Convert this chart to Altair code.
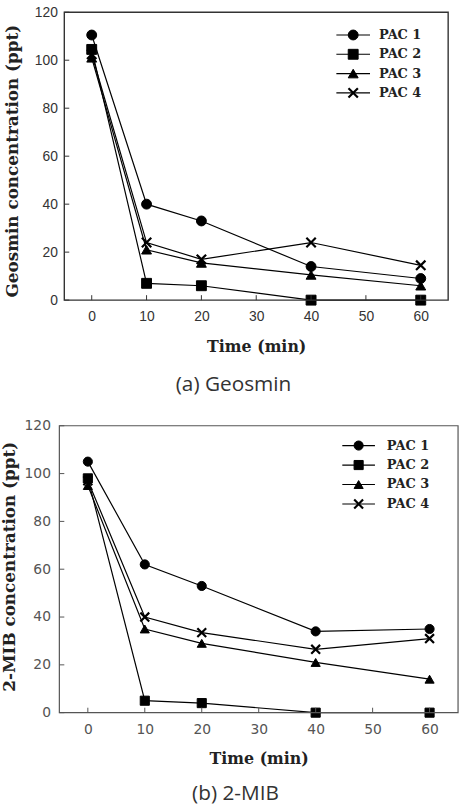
import altair as alt
import pandas as pd

# Sampling times (min) and PAC products
TIMES = [0, 10, 20, 40, 60]
SERIES = ["PAC 1", "PAC 2", "PAC 3", "PAC 4"]

# Geosmin concentration (ppt)
GEOSMIN_PAC1 = [110.5, 40, 33, 14, 9]
GEOSMIN_PAC2 = [104.5, 7, 6, 0, 0]
GEOSMIN_PAC3 = [101, 21, 15.5, 10.5, 6]
GEOSMIN_PAC4 = [102.5, 24, 17, 24, 14.5]

# 2-MIB concentration (ppt)
MIB_PAC1 = [105, 62, 53, 34, 35]
MIB_PAC2 = [98, 5, 4, 0, 0]
MIB_PAC3 = [95, 35, 29, 21, 14]
MIB_PAC4 = [97, 40, 33.5, 26.5, 31]

X_TICKS = [0, 10, 20, 30, 40, 50, 60]
Y_TICKS = [0, 20, 40, 60, 80, 100, 120]

X_MARK = "M-1,-1L1,1M-1,1L1,-1"
FILLED_SHAPES = ["circle", "square", "triangle-up"]


def long_frame(cols):
    rows = []
    for name, vals in zip(SERIES, cols):
        for t, v in zip(TIMES, vals):
            rows.append({"series": name, "time": t, "value": v})
    return pd.DataFrame(rows)


def panel(cols, y_title, caption, st):
    W, H, s = st["W"], st["H"], st["shift"]
    df = long_frame(cols)

    x = alt.X(
        "time:Q",
        scale=alt.Scale(domain=[-5, 65], nice=False, zero=False, range=[-s, W]),
        axis=alt.Axis(
            values=X_TICKS, title="Time (min)", grid=False, domain=False,
            ticks=False, tickSize=0, labelPadding=st["xpad"],
            labelFont=st["lfont"], labelFontSize=st["lsize"], labelColor=st["lcolor"],
            titleFont="DejaVu Serif", titleFontWeight="bold", titleFontSize=16,
            titleColor="#222", titleX=(W - s) / 2, titleY=st["xty"], titleBaseline="middle",
        ),
    )
    y = alt.Y(
        "value:Q",
        scale=alt.Scale(domain=[0, 120], nice=False),
        axis=alt.Axis(
            values=Y_TICKS, title=y_title, grid=False, domain=False, offset=s,
            ticks=False, tickSize=0, labelPadding=st["ypad"],
            labelFont=st["lfont"], labelFontSize=st["lsize"], labelColor=st["lcolor"],
            titleFont="DejaVu Serif", titleFontWeight="bold", titleFontSize=17,
            titleColor="#222", titleX=st["ytx"], titleY=st["yty"],
            titleBaseline="middle", titleAngle=270,
        ),
    )

    base = alt.Chart(df)
    lines = base.mark_line(color="black", strokeWidth=1.2).encode(
        x=x, y=y, detail="series:N"
    )
    filled = base.transform_filter(alt.datum.series != "PAC 4").mark_point(
        filled=True, color="black", stroke="black", strokeWidth=1, opacity=1
    ).encode(
        x="time:Q", y="value:Q",
        shape=alt.Shape("series:N", scale=alt.Scale(domain=SERIES[:3], range=FILLED_SHAPES), legend=None),
        size=alt.value(st["msize"]),
    )
    crosses = base.transform_filter(alt.datum.series == "PAC 4").mark_point(
        filled=False, color="black", strokeWidth=2.2, opacity=1, shape=X_MARK
    ).encode(x="time:Q", y="value:Q", size=alt.value(st["xsize"]))

    one = alt.Chart(pd.DataFrame({"cap": [caption]}))

    # plot frame
    frame = one.mark_rect(fillOpacity=0, stroke=st["fcolor"], strokeWidth=st["fwidth"]).encode(
        x=alt.value(-s), x2=alt.value(W), y=alt.value(0), y2=alt.value(H)
    )

    # inward tick marks on the bottom and left frame
    xt = alt.Chart(pd.DataFrame({"t": X_TICKS})).mark_rule(color=st["fcolor"], strokeWidth=1).encode(
        x="t:Q", y=alt.value(H), y2=alt.value(H - 5)
    )
    yt = alt.Chart(pd.DataFrame({"t": Y_TICKS})).mark_rule(color=st["fcolor"], strokeWidth=1).encode(
        y="t:Q", x=alt.value(-s), x2=alt.value(-s + 5)
    )

    # key in the upper right corner
    leg = pd.DataFrame({
        "series": SERIES,
        "ly": [st["ly0"] + i * st["lstep"] for i in range(len(SERIES))],
    })
    lbase = alt.Chart(leg)
    ly = alt.Y("ly:Q", scale=None, axis=None)
    leg_lines = lbase.mark_rule(color="black", strokeWidth=1.2).encode(
        x=alt.value(st["lx0"]), x2=alt.value(st["lx1"]), y=ly
    )
    leg_filled = lbase.transform_filter(alt.datum.series != "PAC 4").mark_point(
        filled=True, color="black", stroke="black", strokeWidth=1, opacity=1
    ).encode(
        x=alt.value((st["lx0"] + st["lx1"]) / 2), y=ly,
        shape=alt.Shape("series:N", scale=alt.Scale(domain=SERIES[:3], range=FILLED_SHAPES), legend=None),
        size=alt.value(st["msize"]),
    )
    leg_cross = lbase.transform_filter(alt.datum.series == "PAC 4").mark_point(
        filled=False, color="black", strokeWidth=2.2, opacity=1, shape=X_MARK
    ).encode(x=alt.value((st["lx0"] + st["lx1"]) / 2), y=ly, size=alt.value(st["xsize"]))
    leg_text = lbase.mark_text(
        align="left", baseline="middle", font="DejaVu Serif", fontWeight="bold",
        fontSize=13, color="#222"
    ).encode(x=alt.value(st["ltx"]), y=ly, text="series:N")

    cap = one.mark_text(
        align="center", baseline="middle", font="Open Sans", fontSize=21, color="#333"
    ).encode(x=alt.value(st["capx"]), y=alt.value(st["capy"]), text="cap:N")

    return alt.layer(
        lines, filled, crosses, frame, xt, yt, leg_lines, leg_filled, leg_cross, leg_text, cap
    ).properties(
        width=W, height=H,
        view=alt.ViewBackground(strokeWidth=0, stroke=None),
    )


top_style = dict(
    W=388, H=291, shift=0, xpad=10, ypad=7, xty=47, ytx=-52, yty=150,
    lfont="Liberation Sans", lsize=14, lcolor="#333",
    msize=100, xsize=90, fcolor="#333", fwidth=1.4,
    lx0=275, lx1=309, ltx=318, ly0=23, lstep=19.5,
    capx=171, capy=377,
)
bottom_style = dict(
    W=398, H=290, shift=5, xpad=10, ypad=9, xty=46, ytx=-50.5, yty=142,
    lfont="DejaVu Sans", lsize=14, lcolor="#555",
    msize=85, xsize=80, fcolor="#555", fwidth=1.2,
    lx0=281, lx1=314, ltx=326, ly0=20, lstep=19.7,
    capx=173, capy=372,
)

top = panel([GEOSMIN_PAC1, GEOSMIN_PAC2, GEOSMIN_PAC3, GEOSMIN_PAC4],
            "Geosmin concentration (ppt)", "(a) Geosmin", top_style)
bottom = panel([MIB_PAC1, MIB_PAC2, MIB_PAC3, MIB_PAC4],
               "2-MIB concentration (ppt)", "(b) 2-MIB", bottom_style)

chart = alt.vconcat(top, bottom, spacing=24).properties(
    padding={"left": 0, "right": 0, "top": 1, "bottom": 0},
    background="white",
)

chart.save("out.html", embed_options={"renderer": "svg", "actions": False})
